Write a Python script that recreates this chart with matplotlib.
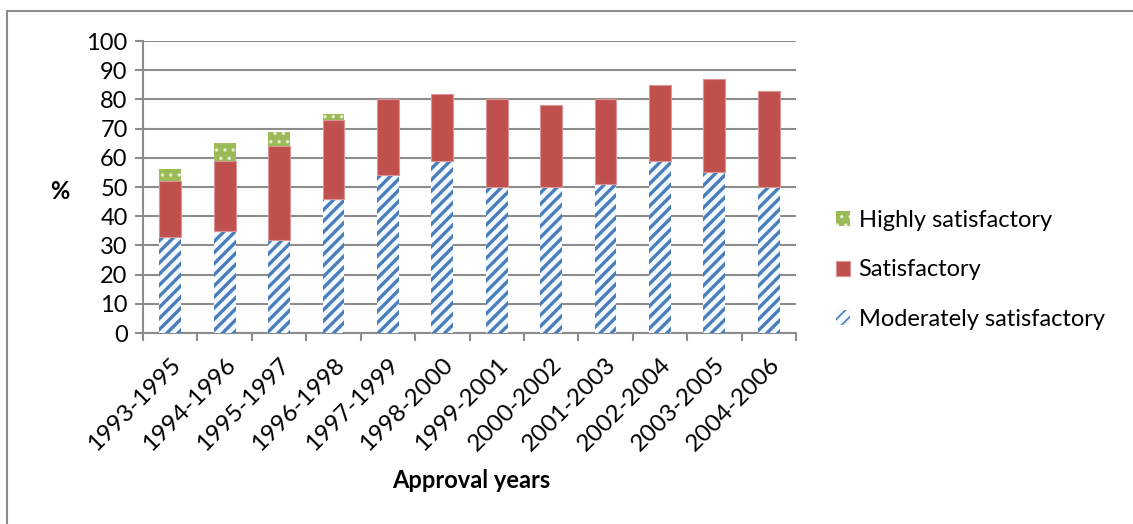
import matplotlib
matplotlib.use("Agg")
import matplotlib.pyplot as plt
import matplotlib.transforms as mtransforms
import numpy as np
from matplotlib.patches import Rectangle

categories = ["1993-1995", "1994-1996", "1995-1997", "1996-1998", "1997-1999",
              "1998-2000", "1999-2001", "2000-2002", "2001-2003", "2002-2004",
              "2003-2005", "2004-2006"]
moderately = [33, 35, 32, 46, 54, 59, 50, 50, 51, 59, 55, 50]
satisfactory = [19, 24, 32, 27, 26, 23, 30, 28, 29, 26, 32, 33]
highly = [4, 6, 5, 2, 0, 0, 0, 0, 0, 0, 0, 0]
yticks = list(range(0, 101, 10))

plt.rcParams['font.family'] = ['Lato', 'DejaVu Sans']
plt.rcParams['hatch.linewidth'] = 2.4

fig = plt.figure(figsize=(11.33, 5.24), dpi=100)
ax = fig.add_axes([143/1133, 1-333/524, (796-143)/1133, (333-41)/524])

x = np.arange(len(categories))
w = 0.4
b1 = ax.bar(x, moderately, w, color='#F2FAFF', edgecolor='#4A7EBB', hatch='///',
            linewidth=0, label='Moderately satisfactory', zorder=3)
b2 = ax.bar(x, satisfactory, w, bottom=moderately, color='#C0504D',
            edgecolor='#D99694', linewidth=0.8, label='Satisfactory', zorder=3)
bottom2 = [m + s for m, s in zip(moderately, satisfactory)]
plt.rcParams['hatch.linewidth'] = 1.2
b3 = ax.bar(x, highly, w, bottom=bottom2, color='#9BBB59', edgecolor='#E6F0D0',
            hatch='..', linewidth=0, label='Highly satisfactory', zorder=3)

ax.set_xlim(-0.5, len(categories) - 0.5)
ax.set_ylim(0, 100)
ax.set_yticks(yticks)
ax.set_yticklabels([str(v) for v in yticks], fontsize=17)
ax.yaxis.grid(True, color='#8C8C8C', linewidth=1.5, zorder=0)
ax.set_axisbelow(True)

ax.set_xticks(x)
ax.set_xticklabels(categories, rotation=45, ha='right', va='top',
                   rotation_mode='anchor', fontsize=17.5)
offset = mtransforms.ScaledTranslation(6/100, 0, fig.dpi_scale_trans)
for lbl in ax.get_xticklabels():
    lbl.set_transform(lbl.get_transform() + offset)
ax.set_xticks(np.arange(-0.5, len(categories), 1), minor=True)
ax.tick_params(axis='x', which='major', length=0, pad=15)
ax.tick_params(axis='x', which='minor', length=6, width=1.5, color='#8C8C8C')
ax.tick_params(axis='y', length=6, width=1.5, color='#8C8C8C', pad=5)

for s in ['top', 'right']:
    ax.spines[s].set_visible(False)
for s in ['left', 'bottom']:
    ax.spines[s].set_color('#8C8C8C')
    ax.spines[s].set_linewidth(1.5)

fig.text(60/1133, 1-192/524, '%', fontsize=17, fontweight='bold',
         ha='center', va='center')
fig.text(471/1133, 1-481/524, 'Approval years', fontsize=17, fontweight='bold',
         ha='center', va='center')

leg = ax.legend(handles=[b3, b2, b1], loc='center left',
                bbox_to_anchor=(815/1133, 1-270/524), bbox_transform=fig.transFigure,
                frameon=False, fontsize=17, handlelength=0.6, handleheight=0.6,
                handletextpad=0.35, labelspacing=1.2)

fig.patches.append(Rectangle((7/1133, -0.1), 1.2, 1 - 11/524 + 0.1,
                             transform=fig.transFigure, fill=False,
                             edgecolor='#8C8C8C', linewidth=1.5))

fig.savefig('out.png', dpi=100)
